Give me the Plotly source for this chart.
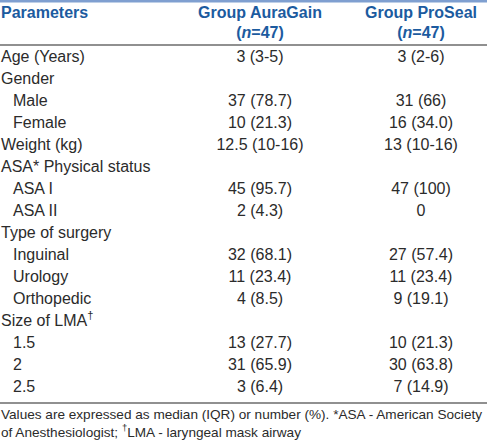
import plotly.graph_objects as go

# ---- data ----
row_labels = ["Age (Years)", "Gender", "Male", "Female", "Weight (kg)",
              "ASA* Physical status", "ASA I", "ASA II", "Type of surgery",
              "Inguinal", "Urology", "Orthopedic", "Size of LMA<sup>†</sup>",
              "1.5", "2", "2.5"]
row_level = [0, 0, 1, 1, 0, 0, 1, 1, 0, 1, 1, 1, 0, 1, 1, 1]
auragain = ["3 (3-5)", "", "37 (78.7)", "10 (21.3)", "12.5 (10-16)", "",
            "45 (95.7)", "2 (4.3)", "", "32 (68.1)", "11 (23.4)", "4 (8.5)",
            "", "13 (27.7)", "31 (65.9)", "3 (6.4)"]
proseal = ["3 (2-6)", "", "31 (66)", "16 (34.0)", "13 (10-16)", "",
           "47 (100)", "0", "", "27 (57.4)", "11 (23.4)", "9 (19.1)",
           "", "10 (21.3)", "30 (63.8)", "7 (14.9)"]
col_headers = ["Group AuraGain<br>(<i>n</i>=47)", "Group ProSeal<br>(<i>n</i>=47)"]
first_header = "Parameters"
footnote = ("Values are expressed as median (IQR) or number (%). *ASA - American Society<br>"
            "of Anesthesiologist; <sup>†</sup>LMA - laryngeal mask airway")

# ---- layout constants ----
W, H = 487, 442
ROW_PX = 22.0
FIRST_ROW_PX = 57.5
X_LABEL = 1
INDENT = 12
X_COL1 = 260
X_COL2 = 421
BODY_COLOR = "#2b2b2b"
HEAD_COLOR = "#1c5b9f"
FONT = "Liberation Sans, Arial, sans-serif"
FS = 16

def px_to_row(p):
    return (p - FIRST_ROW_PX) / ROW_PX

rows = list(range(len(row_labels)))

fig = go.Figure()

# row labels
fig.add_trace(go.Scatter(
    x=[X_LABEL + INDENT * lv for lv in row_level], y=rows, text=row_labels,
    mode="text", textposition="middle right",
    textfont=dict(family=FONT, size=FS, color=BODY_COLOR),
    hoverinfo="skip", showlegend=False))

# value columns
fig.add_trace(go.Scatter(
    x=[X_COL1] * len(rows), y=rows, text=auragain, mode="text",
    textposition="middle center",
    textfont=dict(family=FONT, size=FS, color=BODY_COLOR),
    hoverinfo="skip", showlegend=False))
fig.add_trace(go.Scatter(
    x=[X_COL2] * len(rows), y=rows, text=proseal, mode="text",
    textposition="middle center",
    textfont=dict(family=FONT, size=FS, color=BODY_COLOR),
    hoverinfo="skip", showlegend=False))

# header
fig.add_trace(go.Scatter(
    x=[X_LABEL], y=[px_to_row(14)], text=["<b>" + first_header + "</b>"],
    mode="text", textposition="middle right",
    textfont=dict(family=FONT, size=FS, color=HEAD_COLOR),
    hoverinfo="skip", showlegend=False))
fig.add_trace(go.Scatter(
    x=[X_COL1, X_COL2], y=[px_to_row(24)] * 2,
    text=["<b>" + h + "</b>" for h in col_headers],
    mode="text", textposition="middle center",
    textfont=dict(family=FONT, size=FS, color=HEAD_COLOR),
    hoverinfo="skip", showlegend=False))

# rules
fig.add_shape(type="rect", xref="paper", yref="y", x0=0, x1=1,
              y0=px_to_row(0), y1=px_to_row(2.5),
              fillcolor="#7f9fd0", line=dict(width=0))
fig.add_shape(type="line", xref="paper", yref="y", x0=0, x1=1,
              y0=px_to_row(45), y1=px_to_row(45),
              line=dict(color="#222222", width=1.2))
fig.add_shape(type="line", xref="paper", yref="y", x0=0, x1=1,
              y0=px_to_row(403), y1=px_to_row(403),
              line=dict(color="#222222", width=1.2))

fig.add_annotation(
    xref="paper", yref="y", x=0, y=px_to_row(423), xanchor="left", yanchor="middle",
    text=footnote, showarrow=False, align="left", xshift=-1,
    font=dict(family=FONT, size=13.6, color=BODY_COLOR))

fig.update_xaxes(range=[0, W], visible=False, fixedrange=True)
fig.update_yaxes(range=[px_to_row(H), px_to_row(0)], visible=False, fixedrange=True)
fig.update_layout(width=W, height=H, margin=dict(l=0, r=0, t=0, b=0),
                  paper_bgcolor="white", plot_bgcolor="white")

fig.write_html("out.html", config={"displayModeBar": False},
               post_script="document.body.style.margin='0';")
